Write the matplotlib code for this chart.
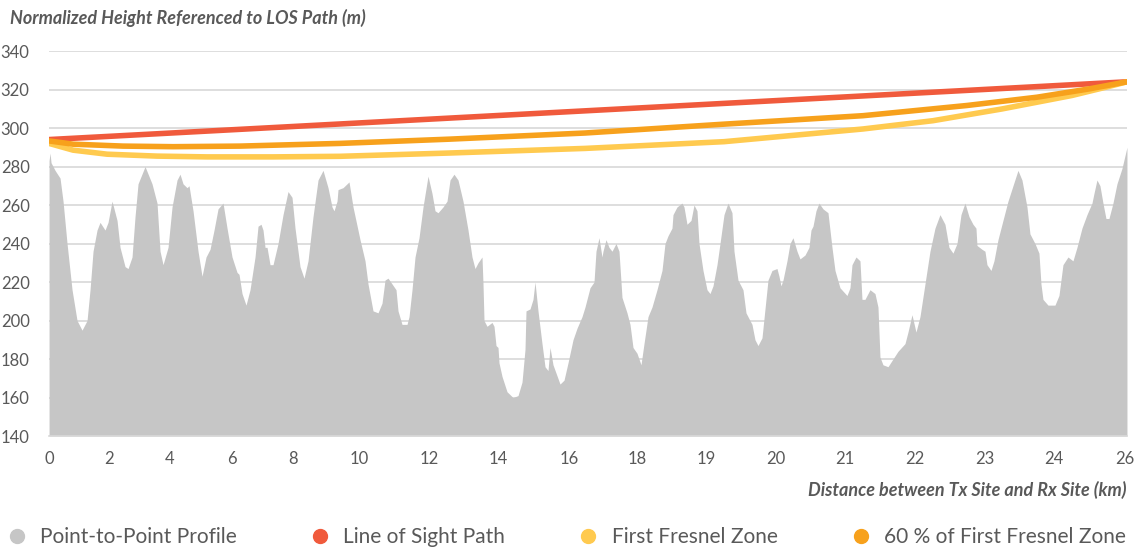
import matplotlib.pyplot as plt
from matplotlib.lines import Line2D

plt.rcParams['font.family'] = ['Lato', 'DejaVu Sans']

# terrain profile: position along the path axis (0..1078) and height (m)
profile_pos = [0, 1, 2, 6, 11, 14, 18, 23, 28, 33, 38, 41, 44, 48, 51, 56, 59, 63, 68, 71,
               76, 79, 83, 86, 89, 96, 103, 108, 111, 114, 119, 123, 128, 131, 134, 138, 140,
               144, 149, 153, 157, 161, 165, 169, 174, 178, 183, 188, 190, 193, 197, 201, 206,
               209, 212, 214, 216, 218, 221, 224, 229, 234, 239, 243, 246, 251, 255, 259, 264,
               269, 274, 279, 283, 285, 288, 289, 294, 300, 304, 311, 316, 319, 324, 329, 333,
               336, 339, 343, 347, 349, 353, 358, 360, 363, 366, 370, 374, 379, 383, 386, 389,
               394, 398, 401, 405, 409, 414, 419, 423, 426, 429, 433, 434, 435, 438, 443, 445,
               447, 449, 450, 453, 458, 464, 469, 473, 476, 477, 481, 484, 486, 489, 493, 496,
               499, 501, 504, 511, 515, 519, 524, 528, 533, 536, 541, 545, 547, 550, 553, 554,
               557, 560, 563, 567, 570, 573, 578, 581, 584, 588, 592, 595, 599, 603, 608, 613,
               616, 619, 623, 624, 628, 633, 635, 638, 642, 645, 648, 650, 654, 658, 661, 664,
               668, 671, 675, 679, 683, 685, 689, 694, 697, 703, 706, 709, 713, 716, 719, 723,
               728, 730, 732, 734, 738, 741, 744, 748, 751, 756, 760, 762, 764, 767, 770, 774,
               779, 783, 786, 791, 798, 801, 803, 807, 811, 813, 816, 821, 826, 829, 831, 834,
               839, 844, 849, 856, 859, 863, 867, 871, 876, 881, 886, 891, 896, 900, 904, 908,
               912, 916, 920, 924, 927, 928, 933, 936, 938, 942, 945, 949, 954, 959, 964, 969,
               973, 978, 981, 986, 990, 992, 994, 999, 1006, 1010, 1014, 1019, 1024, 1028, 1033,
               1038, 1043, 1045, 1048, 1051, 1054, 1057, 1060, 1064, 1068, 1073, 1078]
profile_h = [283, 287, 282, 278, 274, 262, 240, 216, 200, 195, 200, 216, 236, 247, 251, 247, 251,
             262, 252, 238, 228, 227, 233, 254, 271, 280, 271, 261, 236, 229, 238, 259, 273, 276,
             271, 269, 270, 257, 236, 223, 233, 237, 247, 258, 261, 248, 233, 225, 224, 214, 208,
             216, 233, 249, 250, 247, 238, 238, 229, 229, 240, 255, 267, 264, 248, 228, 222, 231,
             254, 273, 278, 269, 259, 257, 262, 268, 269, 272, 259, 242, 231, 219, 205, 204, 209,
             221, 222, 219, 216, 205, 198, 198, 202, 216, 233, 243, 259, 275, 266, 257, 256, 259,
             262, 273, 276, 273, 262, 247, 233, 227, 230, 233, 219, 200, 197, 199, 197, 187, 186,
             178, 171, 163, 160, 161, 168, 185, 205, 206, 211, 220, 205, 188, 176, 174, 186, 177,
             167, 169, 178, 190, 196, 202, 207, 217, 220, 236, 243, 233, 236, 242, 238, 236, 240,
             236, 212, 204, 198, 186, 183, 177, 188, 202, 207, 216, 226, 240, 244, 248, 255, 259,
             261, 259, 250, 252, 260, 257, 240, 226, 216, 214, 218, 229, 240, 255, 261, 256, 236,
             221, 216, 204, 198, 190, 187, 191, 206, 221, 226, 227, 223, 218, 221, 231, 240, 243,
             236, 232, 234, 238, 247, 249, 257, 261, 258, 256, 238, 226, 217, 213, 217, 229, 233,
             231, 211, 211, 216, 214, 207, 181, 177, 176, 180, 184, 188, 194, 203, 194, 202, 219,
             236, 248, 255, 250, 238, 235, 240, 255, 261, 254, 250, 248, 239, 237, 236, 229, 226,
             231, 242, 252, 262, 270, 278, 273, 259, 245, 240, 235, 219, 211, 208, 208, 213, 229,
             233, 231, 238, 248, 255, 261, 266, 273, 270, 261, 253, 253, 261, 271, 279, 290]

# line of sight and Fresnel zone boundaries
los_pos = [0, 539, 1078]
los_h = [294, 309, 324]
fresnel_pos = [0, 24, 58, 108, 158, 224, 291, 400, 536, 675, 814, 884, 953, 1023, 1057, 1078]
fresnel_h = [292, 288.5, 286.4, 285.4, 285, 285, 285.3, 287, 289.4, 292.9, 299.5, 303.8,
             309.9, 316.9, 321.2, 324]
fresnel60_pos = [0, 24, 74, 124, 191, 291, 400, 536, 675, 814, 918, 988, 1040, 1078]
fresnel60_h = [293.3, 291.6, 290.6, 290.3, 290.6, 292, 294.2, 297.4, 302, 306.4, 311.7, 316,
               320.3, 324]

tick_pos = [0, 60, 121, 183, 244, 310, 380, 449, 520, 588, 657, 727, 796, 866, 936, 1005, 1076]
tick_labels = ['0', '2', '4', '6', '8', '10', '12', '14', '16', '18', '19', '20', '21', '22',
               '23', '24', '26']

grey = '#c6c6c6'
red = '#f05a3c'
yellow = '#ffca4f'
orange = '#f7a11c'
text_col = '#595959'

fig = plt.figure(figsize=(11.38, 5.52), dpi=100)
ax = fig.add_axes([0.0431, 0.2101, 0.9472, 0.6975])

ax.fill_between(profile_pos, profile_h, 140, color=grey, lw=0, zorder=2)
ax.plot(los_pos, los_h, color=red, lw=4, solid_capstyle='round', zorder=3)
ax.plot(fresnel_pos, fresnel_h, color=yellow, lw=4, solid_capstyle='round', zorder=4)
ax.plot(fresnel60_pos, fresnel60_h, color=orange, lw=4, solid_capstyle='round', zorder=5)

ax.set_xlim(0, 1078)
ax.set_ylim(140, 340)
ax.set_yticks(range(140, 341, 20))
ax.set_xticks(tick_pos)
ax.set_xticklabels(tick_labels)
ax.tick_params(length=0, labelsize=12, labelcolor=text_col)
ax.tick_params(axis='y', pad=14)
ax.tick_params(axis='x', pad=11)
ax.grid(axis='y', color='#d4d4d4', lw=1.1, zorder=0)
ax.set_axisbelow(True)
for s in ['left', 'right', 'top']:
    ax.spines[s].set_visible(False)
ax.spines['bottom'].set_color('#d9d9d9')
ax.spines['bottom'].set_linewidth(1.2)

fig.text(0.009, 0.967, 'Normalized Height Referenced to LOS Path (m)', fontsize=13,
         fontweight='bold', fontstyle='italic', color=text_col, va='center', ha='left')
fig.text(0.9903, 0.112, 'Distance between Tx Site and Rx Site (km)', fontsize=13,
         fontweight='bold', fontstyle='italic', color=text_col, va='center', ha='right')

handles = [Line2D([], [], marker='o', ls='', color=c, markersize=10)
           for c in [grey, red, yellow, orange]]
names = ['Point-to-Point Profile', 'Line of Sight Path', 'First Fresnel Zone',
         '60 % of First Fresnel Zone']
fig.legend(handles, names, loc='center left', bbox_to_anchor=(0.0, 0.027), ncol=4,
           frameon=False, fontsize=15, labelcolor=text_col, handletextpad=0.53,
           columnspacing=3.38, handlelength=1.2, borderaxespad=0, borderpad=0.2)

fig.savefig('out.png', dpi=100)
